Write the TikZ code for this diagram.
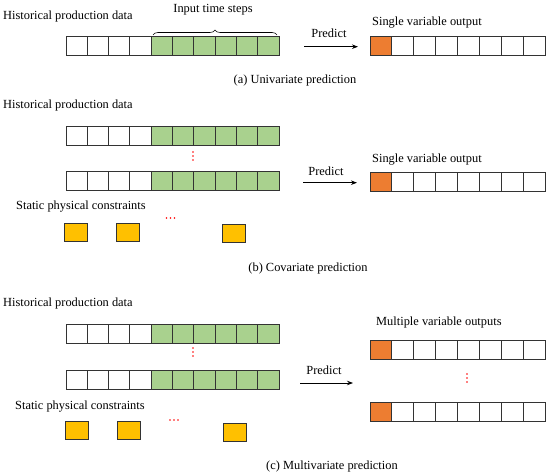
\documentclass[tikz,border=0pt]{standalone}
\usepackage{fontspec}
\setmainfont{Liberation Serif}
\usetikzlibrary{decorations.pathreplacing,arrows.meta}
\definecolor{cgreen}{HTML}{A9D18E}
\definecolor{corange}{HTML}{ED7D31}
\definecolor{cyellow}{HTML}{FFC000}
\begin{document}
\begin{tikzpicture}[x=1pt,y=-1pt,
  cellbox/.style={draw=black!80,line width=0.9pt,minimum width=21.3pt,minimum height=19pt,inner sep=0pt,outer sep=0pt},
  outcell/.style={draw=black!80,line width=0.9pt,minimum width=21.9pt,minimum height=19pt,inner sep=0pt,outer sep=0pt},
  constbox/.style={draw=black!80,line width=0.9pt,fill=cyellow,minimum width=23pt,minimum height=18pt,inner sep=0pt},
  lbl/.style={font=\fontsize{12.4}{14}\selectfont,inner sep=0pt},
  reddot/.style={fill=red,circle,inner sep=0pt,minimum size=1.6pt},
  predarrow/.style={-{Stealth[length=6pt,width=4.5pt]},line width=0.9pt}]
\useasboundingbox (0,0) rectangle (550,473);
% input rows
\foreach \r/\yy in {ra/46,rb/135.5,rc/181,rd/334,re/379.5}{
  \foreach \i in {0,...,9}{
    \ifnum\i<4
      \node[cellbox,fill=white] (\r\i) at ({76.65+21.3*\i},\yy) {};
    \else
      \node[cellbox,fill=cgreen] (\r\i) at ({76.65+21.3*\i},\yy) {};
    \fi
  }
}
% output rows
\foreach \r/\yy in {oa/45.5,ob/182,oc/350,od/412}{
  \foreach \i in {0,...,7}{
    \ifnum\i=0
      \node[outcell,fill=corange] (\r\i) at ({380.95+21.9*\i},\yy) {};
    \else
      \node[outcell,fill=white] (\r\i) at ({380.95+21.9*\i},\yy) {};
    \fi
  }
}
% brace
\coordinate (bl) at (153,35);
\coordinate (br) at (277,35);
\draw[decorate,decoration={brace,amplitude=5pt},line width=0.6pt] (bl) -- (br);
\node[lbl] (its) at (213,10) {Input time steps};
% labels
\node[lbl,anchor=west] (hpa) at (3,17) {Historical production data};
\node[lbl,anchor=west] (hpb) at (3,106) {Historical production data};
\node[lbl,anchor=west] (hpc) at (3,304) {Historical production data};
\node[lbl,anchor=west] (spb) at (16,207) {Static physical constraints};
\node[lbl,anchor=west] (spc) at (15,407) {Static physical constraints};
\node[lbl,anchor=west] (sva) at (372,23) {Single variable output};
\node[lbl,anchor=west] (svb) at (372,160) {Single variable output};
\node[lbl,anchor=west] (mvo) at (376,323) {Multiple variable outputs};
\node[lbl] (pa) at (329,33) {Predict};
\node[lbl] (pb) at (326,171) {Predict};
\node[lbl] (pc) at (324,370) {Predict};
\node[lbl] (capa) at (295,81) {(a) Univariate prediction};
\node[lbl] (capb) at (308,269) {(b) Covariate prediction};
\node[lbl] (capc) at (332,467) {(c) Multivariate prediction};
% arrows
\coordinate (a1) at (304,46.7); \coordinate (a2) at (358,46.7);
\coordinate (b1) at (303,182.7); \coordinate (b2) at (357,182.7);
\coordinate (c1) at (300,383); \coordinate (c2) at (353,383);
\draw[predarrow] (a1) -- (a2);
\draw[predarrow] (b1) -- (b2);
\draw[predarrow] (c1) -- (c2);
% constraints
\node[constbox] (kb1) at (75.5,232) {};
\node[constbox] (kb2) at (127.5,232) {};
\node[constbox] (kb3) at (234,233) {};
\node[constbox] (kc1) at (76.5,430.5) {};
\node[constbox] (kc2) at (128.5,430.5) {};
\node[constbox] (kc3) at (234.5,432) {};
% dots
\foreach \d in {-4,0,4}{
  \node[reddot] at (193,156+\d) {};
  \node[reddot] at (193,352+\d) {};
  \node[reddot] at (467,378+\d) {};
  \node[reddot] at (170.5+\d,218) {};
  \node[reddot] at (174+\d,420) {};
}
\end{tikzpicture}
\end{document}
